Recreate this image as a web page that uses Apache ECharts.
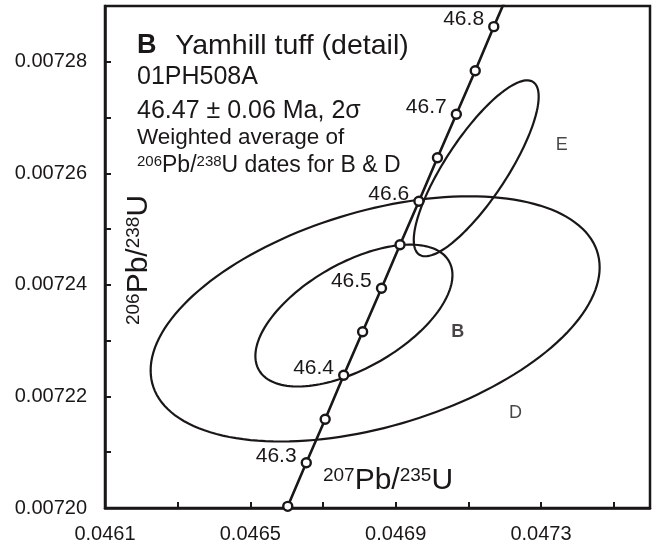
<!DOCTYPE html>
<html>
<head>
<meta charset="utf-8">
<title>Yamhill tuff (detail) - concordia</title>
<script src="https://cdn.jsdelivr.net/npm/echarts@6/dist/echarts.min.js"></script>
<style>
  html, body { margin: 0; padding: 0; background: #fff; }
  #chart { width: 654px; height: 550px; }
</style>
</head>
<body>
<div id="chart"></div>
<script>
// concordia points (Ma) with 207Pb/235U and 206Pb/238U
const concordiaAges = [46.25, 46.30, 46.35, 46.40, 46.45, 46.50, 46.55, 46.60, 46.65, 46.70, 46.75, 46.80, 46.85]
const concordia207 = [0.046603, 0.046654, 0.046706, 0.046757, 0.046809, 0.046861, 0.046912, 0.046964, 0.047015, 0.047067, 0.047119, 0.047170, 0.047222]
const concordia206 = [0.0072003, 0.0072081, 0.0072159, 0.0072238, 0.0072316, 0.0072394, 0.0072472, 0.0072550, 0.0072628, 0.0072706, 0.0072784, 0.0072863, 0.0072941]
const labelledAges = [46.3, 46.4, 46.5, 46.6, 46.7, 46.8]

// 2 sigma error ellipses: centre, half widths and correlation
const ellipseNames = ['D', 'B', 'E']
const ellipseX = [0.0468435, 0.0467851, 0.0471217]
const ellipseY = [0.0072339, 0.0072345, 0.0072609]
const ellipseSx = [0.0006179, 0.0002712, 0.0001719]
const ellipseSy = [0.00002198, 0.00001272, 0.00001577]
const ellipseRho = [0.42, 0.57, 0.815]
const ellipseLabelX = [0.047230, 0.047071, 0.047357]
const ellipseLabelY = [0.0072171, 0.0072315, 0.0072651]

// tick labels
const xTickLabels = ['0.0461', '0.0465', '0.0469', '0.0473']
const yTickLabels = ['0.00720', '0.00722', '0.00724', '0.00726', '0.00728']

const INK = '#1a1718'
const FONT = '"Liberation Sans", Arial, Helvetica, sans-serif'

const chart = echarts.init(document.getElementById('chart'))

const pbU = (a, b) => `{s|${a}}{m|Pb/}{s|${b}}{m|U}`

const renderEllipse = (params, api) => {
  const cx = api.value(0)
  const cy = api.value(1)
  const sx = api.value(2)
  const sy = api.value(3)
  const rho = api.value(4)
  const k = Math.sqrt(1 - rho * rho)
  const points = []
  for (let i = 0; i < 160; i++) {
    const t = i / 160 * Math.PI * 2
    points.push(api.coord([cx + sx * Math.cos(t), cy + sy * (rho * Math.cos(t) + k * Math.sin(t))]))
  }
  return {
    type: 'polygon',
    shape: { points },
    style: { fill: 'none', stroke: INK, lineWidth: 2.2 }
  }
}

const titleText = (text, y, size, rich) => ({
  type: 'text',
  x: 137,
  y,
  silent: true,
  style: {
    text,
    fill: INK,
    font: `${size}px ${FONT}`,
    verticalAlign: 'middle',
    align: 'left',
    rich
  }
})

const option = {
  animation: false,
  textStyle: { fontFamily: FONT },
  grid: {
    left: 105,
    right: 4,
    top: 6,
    bottom: 42,
    show: true,
    borderColor: INK,
    borderWidth: 2.5,
    containLabel: false
  },
  xAxis: {
    type: 'value',
    min: 0.0461,
    max: 0.0476,
    interval: 0.0002,
    axisLine: { show: true, onZero: false, lineStyle: { color: INK, width: 2.5 } },
    axisTick: { show: true, inside: true, length: 6, lineStyle: { color: INK, width: 2 } },
    axisLabel: {
      color: INK,
      fontSize: 20,
      margin: 16,
      formatter: (v) => {
        const s = v.toFixed(4)
        return xTickLabels.includes(s) ? s : ''
      }
    },
    splitLine: { show: false }
  },
  yAxis: {
    type: 'value',
    min: 0.0072,
    max: 0.00729,
    interval: 0.00001,
    axisLine: { show: true, onZero: false, lineStyle: { color: INK, width: 2.5 } },
    axisTick: { show: true, inside: true, length: 6, lineStyle: { color: INK, width: 2 } },
    axisLabel: {
      color: INK,
      fontSize: 20,
      margin: 18,
      formatter: (v) => {
        const s = v.toFixed(5)
        return yTickLabels.includes(s) ? s : ''
      }
    },
    splitLine: { show: false }
  },
  series: [
    {
      name: 'ellipses',
      type: 'custom',
      silent: true,
      renderItem: renderEllipse,
      encode: { x: 0, y: 1 },
      data: ellipseNames.map((n, i) => [ellipseX[i], ellipseY[i], ellipseSx[i], ellipseSy[i], ellipseRho[i]])
    },
    {
      name: 'ellipse labels',
      type: 'scatter',
      silent: true,
      symbolSize: 0,
      data: ellipseNames.map((n, i) => ({
        name: n,
        value: [ellipseLabelX[i], ellipseLabelY[i]],
        label: { fontWeight: n === 'B' ? 'bold' : 'normal' }
      })),
      label: {
        show: true,
        position: 'inside',
        formatter: '{b}',
        color: INK,
        fontSize: 18
      }
    },
    {
      name: 'concordia',
      type: 'line',
      silent: true,
      showAllSymbol: true,
      symbol: 'circle',
      symbolSize: 9,
      lineStyle: { color: INK, width: 2.6 },
      itemStyle: { color: '#fff', borderColor: INK, borderWidth: 2.4 },
      z: 5,
      data: concordiaAges.map((age, i) => ({
        value: [concordia207[i], concordia206[i]],
        label: {
          show: labelledAges.includes(age),
          formatter: age.toFixed(1)
        }
      })),
      label: {
        position: 'left',
        distance: 4,
        offset: [0, -7],
        color: INK,
        fontSize: 21
      }
    }
  ],
  graphic: [
    titleText('{b|B}  Yamhill tuff (detail)', 46, 28.5, { b: { fontWeight: 'bold', fontSize: 27, padding: [0, 3, 0, 0] } }),
    titleText('01PH508A', 77, 25),
    titleText('46.47 ± 0.06 Ma, 2σ', 111, 25),
    titleText('Weighted average of', 138, 22.5),
    titleText('{s|206}{m|Pb/}{s|238}{m|U dates for B & D}', 166, 23, {
      m: { fontSize: 23, lineHeight: 23 },
      s: { fontSize: 15, lineHeight: 15, verticalAlign: 'top' }
    }),
    {
      type: 'text',
      x: 139,
      y: 260,
      rotation: Math.PI / 2,
      silent: true,
      style: {
        text: pbU(206, 238),
        fill: INK,
        font: `30px ${FONT}`,
        align: 'center',
        verticalAlign: 'middle',
        rich: {
          m: { fontSize: 30, lineHeight: 30 },
          s: { fontSize: 19, lineHeight: 19, verticalAlign: 'top' }
        }
      }
    },
    {
      type: 'text',
      x: 388,
      y: 481,
      silent: true,
      style: {
        text: pbU(207, 235),
        fill: INK,
        font: `30px ${FONT}`,
        align: 'center',
        verticalAlign: 'middle',
        rich: {
          m: { fontSize: 30, lineHeight: 30 },
          s: { fontSize: 19, lineHeight: 19, verticalAlign: 'top' }
        }
      }
    }
  ]
}

chart.setOption(option)
window.addEventListener('resize', () => chart.resize())
</script>
</body>
</html>
